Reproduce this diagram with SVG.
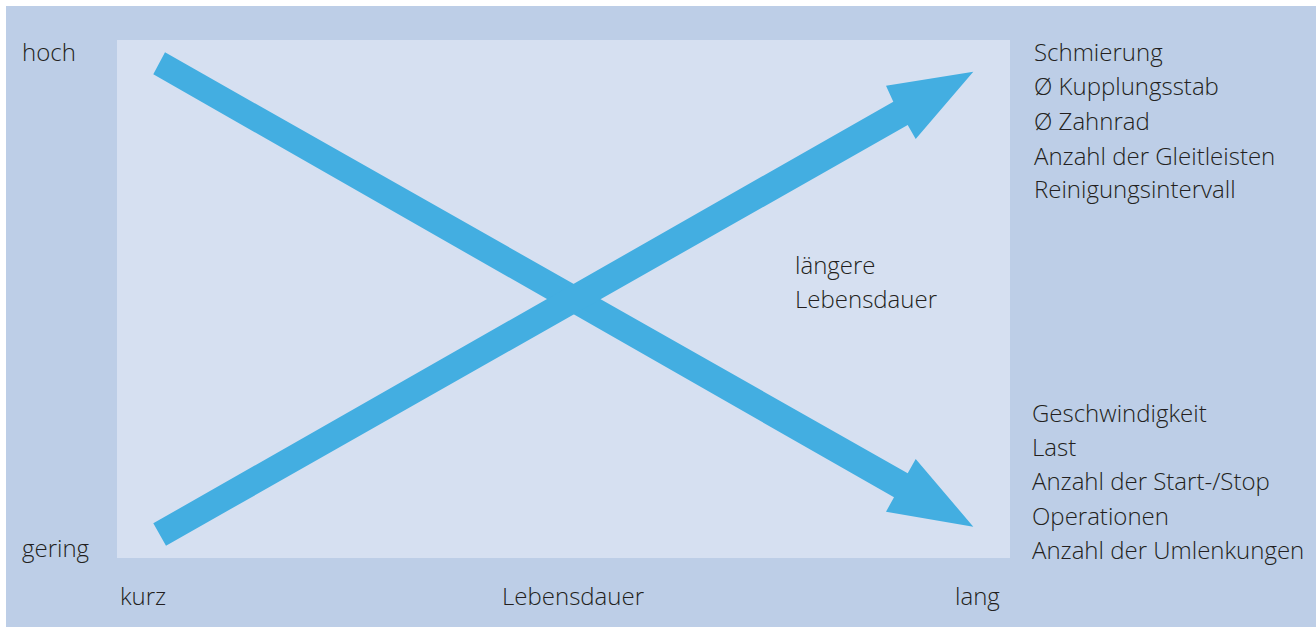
<svg xmlns="http://www.w3.org/2000/svg" width="1316" height="627" viewBox="0 0 1316 627">
<style>
text{font-family:"Open Sans","Noto Sans",sans-serif;font-size:24px;font-weight:300;fill:#231f20;}
.arrow{fill:#43aee1;}
</style>
<rect x="0" y="0" width="1316" height="627" fill="#ffffff"/>
<rect x="6" y="6" width="1310" height="621" fill="#bdcee7"/>
<rect x="117" y="40" width="893" height="518" fill="#d6e0f1"/>
<g id="connectors">
<polygon class="arrow" points="165,52.3 907.7,473.3 915.7,459 973.3,526.7 886,511.7 894,497.3 153.3,74.3"/>
<polygon class="arrow" points="153.3,523.3 893.3,101.7 886,85.7 973.3,71.7 915.7,139 907.7,125 166,545.7"/>
</g>
<g id="axis-y">
<text x="22" y="61">hoch</text>
<text x="22" y="557">gering</text>
</g>
<g id="axis-x">
<text x="120" y="605">kurz</text>
<text x="573" y="605" text-anchor="middle">Lebensdauer</text>
<text x="955" y="605">lang</text>
</g>
<g id="center-label">
<text x="795" y="274">längere</text>
<text x="795" y="308">Lebensdauer</text>
</g>
<g id="top-list">
<text x="1034" y="61">Schmierung</text>
<text x="1034" y="95">Ø Kupplungsstab</text>
<text x="1034" y="130">Ø Zahnrad</text>
<text x="1034" y="165">Anzahl der Gleitleisten</text>
<text x="1034" y="198">Reinigungsintervall</text>
</g>
<g id="bottom-list">
<text x="1032" y="422">Geschwindigkeit</text>
<text x="1032" y="456">Last</text>
<text x="1032" y="490">Anzahl der Start-/Stop</text>
<text x="1032" y="525">Operationen</text>
<text x="1032" y="559">Anzahl der Umlenkungen</text>
</g>
</svg>
